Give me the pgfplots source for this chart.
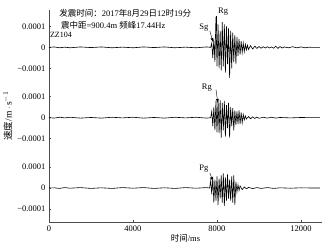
\documentclass[border=0pt]{standalone}
\usepackage{fontspec}
\setmainfont{Liberation Serif}
\newfontfamily\cjk{Noto Sans CJK SC}
\usepackage{pgfplots}
\pgfplotsset{compat=1.18}
\usepackage{pgfplotstable}

\pgfplotstableread{
x y
0 0
250 0.02
500 -0.02
750 0.01
1000 -0.02
1500 0.02
2000 -0.01
2500 0.02
3000 -0.02
3500 0.01
4000 -0.02
4500 0.02
5000 -0.01
5500 0.02
6000 -0.02
6500 0.01
7000 -0.02
7500 0.02
7700 0
7750 0.2
7800 -0.5
7850 0.4
7900 -0.7
7950 1.45
8000 -0.9
8050 1.1
8100 -1.0
8150 0.8
8200 -1.1
8250 1.2
8300 -0.9
8350 1.1
8400 -1.2
8450 1.0
8500 -0.8
8550 0.9
8600 -1.45
8650 0.8
8700 -1.0
8750 0.7
8800 -0.7
8850 0.6
8900 -0.8
8950 0.5
9000 -0.4
9050 0.4
9100 -0.35
9150 0.3
9200 -0.25
9250 0.2
9300 -0.2
9350 0.15
9400 -0.12
9450 0.1
9500 -0.1
9600 0.08
9700 -0.08
9800 0.06
9900 -0.05
10000 0.04
10100 -0.04
10200 0.03
10300 -0.03
10400 0.03
10500 -0.03
10600 0.02
10700 -0.04
10800 0.05
10900 -0.05
11000 0.04
11100 -0.03
11200 0.02
11400 -0.02
11600 0.03
11800 -0.02
12000 0.02
12200 -0.02
12400 0.01
12500 0
12900 0
}\traceA

\pgfplotstableread{
x y
0 0
250 -0.02
500 0.02
750 -0.01
1000 0.02
1500 -0.02
2000 0.01
2500 -0.02
3000 0.02
3500 -0.01
4000 0.02
4500 -0.02
5000 0.01
5500 -0.02
6000 0.02
6500 -0.01
7000 0.02
7500 -0.02
7700 0
7750 0.3
7800 -0.4
7850 0.5
7900 -0.6
7950 0.8
8000 -0.7
8050 0.9
8100 -0.75
8150 0.85
8200 -0.95
8250 0.7
8300 -0.6
8350 0.8
8400 -0.9
8450 0.6
8500 -0.5
8550 0.7
8600 -0.95
8650 0.5
8700 -0.4
8750 0.45
8800 -0.6
8850 0.35
8900 -0.35
8950 0.3
9000 -0.3
9050 0.35
9100 -0.3
9150 0.25
9200 -0.25
9250 0.15
9300 -0.1
9350 0.08
9400 -0.06
9500 0.05
9600 -0.05
9700 0.04
9800 -0.04
9900 0.03
10000 -0.03
10200 0.02
10400 -0.02
10600 0.02
10800 -0.02
11000 0.01
11500 -0.01
12000 0.01
12500 0
12900 0
}\traceB

\pgfplotstableread{
x y
0 0
250 0.01
500 -0.02
750 0.02
1000 -0.01
1500 0.02
2000 -0.02
2500 0.01
3000 -0.02
3500 0.02
4000 -0.01
4500 0.02
5000 -0.02
5500 0.01
6000 -0.02
6500 0.02
7000 -0.01
7500 0.02
7650 0
7700 0.35
7750 -0.3
7800 0.5
7850 -0.7
7900 0.4
7950 -0.6
8000 0.55
8050 -0.8
8100 0.45
8150 -0.5
8200 0.6
8250 -0.7
8300 0.7
8350 -0.85
8400 0.5
8450 -0.6
8500 0.65
8550 -0.5
8600 0.4
8650 -0.6
8700 0.55
8750 -0.7
8800 0.6
8850 -0.8
8900 0.3
8950 -0.2
9000 0.15
9050 -0.12
9100 0.1
9200 -0.08
9300 0.05
9400 -0.04
9500 0.03
9700 -0.03
9900 0.02
10100 -0.02
10400 0.02
10700 -0.02
11000 0.01
11500 -0.01
12000 0.01
12500 0
12900 0
}\traceC

\begin{document}
\begin{tikzpicture}
\begin{axis}[
  scale only axis, width=273pt, height=212pt,
  xmin=0, xmax=13000, ymin=-1.62, ymax=8.48,
  axis x line=bottom, axis y line=left,
  axis line style={-, line width=0.5pt, black!70},
  xtick={0,4000,8000,12000},
  scaled x ticks=false,
  xticklabel style={/pgf/number format/1000 sep={}},
  /pgf/number format/assume math mode=true,
  ytick={-1,0,1,2.35,3.35,4.35,5.7,6.7,7.7},
  yticklabels={−0.0001,0,0.0001,−0.0001,0,0.0001,−0.0001,0,0.0001},
  tick align=inside, major tick length=2pt,
  tick style={black!70, line width=0.4pt},
  tick label style={font=\fontsize{8.5}{9}\selectfont},
  xlabel={{\cjk 时间}/ms},
  ylabel={{\cjk 速度}/m\,$\cdot$\,s$^{-1}$},
  xlabel style={font=\fontsize{8.5}{9}\selectfont, yshift=4pt},
  ylabel style={font=\fontsize{9.5}{10}\selectfont, yshift=-2pt},
  clip=false,
]
\addplot[black, line width=0.6pt] table[x=x, y expr=\thisrow{y}+6.7] {\traceA};
\addplot[black, line width=0.6pt] table[x=x, y expr=\thisrow{y}+3.35] {\traceB};
\addplot[black, line width=0.6pt] table[x=x, y=y] {\traceC};

\node[anchor=west, font=\fontsize{8.5}{9}\selectfont, inner sep=0pt] at (axis cs:480,8.33) {{\cjk 发震时间：}2017{\cjk 年}8{\cjk 月}29{\cjk 日}12{\cjk 时}19{\cjk 分}};
\node[anchor=west, font=\fontsize{8.5}{9}\selectfont, inner sep=0pt] at (axis cs:570,7.76) {{\cjk 震中距}=900.4m {\cjk 频峰}17.44Hz};
\node[anchor=west, font=\fontsize{8}{9}\selectfont, inner sep=0pt] at (axis cs:40,7.29) {ZZ104};

\node[font=\fontsize{8.5}{9}\selectfont, inner sep=0pt] at (axis cs:7380,7.62) {Sg};
\draw[-latex, line width=0.4pt] (axis cs:7660,7.48) -- (axis cs:7810,6.95);
\node[font=\fontsize{8.5}{9}\selectfont, inner sep=0pt] at (axis cs:8290,8.38) {Rg};
\draw[line width=0.5pt] (axis cs:7970,8.2) -- (axis cs:7970,7.5);

\node[font=\fontsize{8.5}{9}\selectfont, inner sep=0pt] at (axis cs:7520,4.78) {Rg};
\draw[-latex, line width=0.4pt] (axis cs:7950,4.7) -- (axis cs:8040,4.05);

\node[font=\fontsize{8.5}{9}\selectfont, inner sep=0pt] at (axis cs:7380,0.92) {Pg};
\draw[-latex, line width=0.4pt] (axis cs:7660,0.72) -- (axis cs:7800,0.33);

\path (rel axis cs:1,1) ++(8pt,10pt) coordinate (pad);
\path (pad) -- (pad);
\end{axis}
\end{tikzpicture}
\end{document}
